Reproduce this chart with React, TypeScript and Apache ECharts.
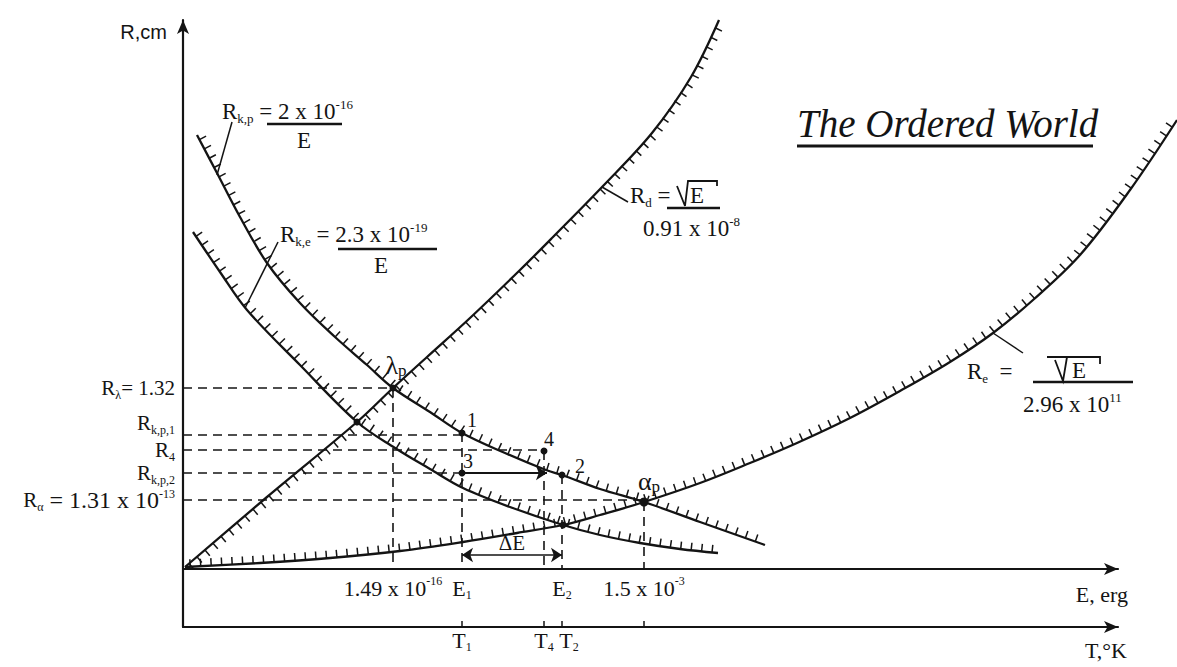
import React, { useEffect, useRef } from "react";
import * as echarts from "echarts";

const INK = "#141414";
const SERIF = "Liberation Serif, Times New Roman, serif";
const SANS = "Liberation Sans, Arial, sans-serif";

// Schematic axes: E to the right, R upward, T as a second scale below E
const E_MAX = 935;
const R_MIN = -58;
const R_MAX = 549;

// Curves as [E, R] pairs (schematic units)
const R_KP = [[14, 434], [34, 396], [57, 352], [84, 306], [117, 266], [152, 232], [184, 204], [210, 181], [247, 157], [279, 136], [322, 116], [363, 99], [379, 94], [417, 80], [461, 67], [517, 47], [582, 24]];
const R_KE = [[10, 337], [37, 297], [64, 259], [117, 204], [174, 147], [212, 121], [247, 100], [280, 81], [327, 62], [380, 44], [417, 34], [457, 26], [497, 20], [535, 16]];
const R_D = [[2, 2], [84, 72], [174, 147], [210, 181], [244, 212], [287, 251], [337, 299], [370, 332], [420, 383], [469, 436], [508, 492], [536, 549]];
const R_E = [[2, 2], [77, 6], [147, 11], [217, 18], [280, 27], [334, 36], [380, 44], [417, 54], [461, 67], [517, 86], [567, 106], [614, 126], [667, 151], [717, 178], [767, 207], [810, 236], [850, 269], [897, 314], [947, 379], [994, 449]];

// Marked states on the curves
const POINT_NAMES = ["λp", "1", "2", "3", "4", "αp", "", ""];
const POINT_E = [210, 279, 379, 279, 361, 461, 174, 380];
const POINT_R = [181, 136, 94, 96, 118, 67, 147, 44];

// Dashed projections: horizontal [R, E end], vertical [E, R top]
const H_GUIDES = [[181, 210], [134, 279], [119, 361], [96, 279], [69, 461]];
const V_GUIDES = [[210, 181], [279, 136], [361, 118], [379, 94], [461, 67]];

// Arrows: energy gap E1..E2 and the shift from state 3
const DELTA_E = [[279, 14], [379, 14]];
const SHIFT_3 = [[279, 96], [364, 96]];

// Leader lines from the formulas to their curves
const LEADERS = [
  [[49, 447], [34, 394]],
  [[95, 327], [62, 261]],
  [[419, 382], [445, 367]],
  [[810, 236], [840, 216]],
];

// Axis tick labels
const R_TICKS = [181, 134, 119, 96, 69];
const R_TICK_TEXT = [
  "{m|R}{sub|λ}{m|= 1.32}",
  "{m|R}{sub|k,p,1}\n{gap| }",
  "{m|R}{sub|4}",
  "{m|R}{sub|k,p,2}",
  "{m|R}{sub|α}{L| = 1.31 x 10}{sup|-13}",
];
const E_TICKS = [210, 279, 379, 461];
const E_TICK_TEXT = ["{m|1.49 x 10}{sup|-16}", "{m|E}{sub|1}", "{m|E}{sub|2}", "{m|1.5 x 10}{sup|-3}"];
const T_TICKS = [279, 361, 379, 461];
const T_TICK_TEXT = ["{m|T}{sub|1}", "{m|T}{sub|4}", "{pad| }{m|T}{sub|2}", ""];

// Formula captions next to the curves: [text, left, top]
const CAPTIONS: [string, number, number][] = [
  ["{m|R}{sub|k,p}{m| = 2 x 10}{sup|-16}", 222, 98],
  ["{m|E}", 297, 129],
  ["{m|R}{sub|k,e}{m| = 2.3 x 10}{sup|-19}", 280, 221],
  ["{m|E}", 374, 254],
  ["{m|R}{sub|d}{m| =}", 630, 182],
  ["{m|E}", 690, 184],
  ["{m|0.91 x 10}{sup|-8}", 643, 215],
  ["{m|R}{sub|e}{m|  =}", 967, 358],
  ["{m|E}", 1072, 359],
  ["{m|2.96 x 10}{sup|11}", 1023, 391],
];

const CURVES = [R_KP, R_KE, R_D, R_E];
const HATCH_SIDE = [1, 1, -1, 1];
const HATCH_STEP = 10.5;
const HATCH_LEN = 7.5;

function rich(size: number) {
  const small = Math.round(size * 0.56);
  const shift = Math.round(size * 0.62);
  const base = { fontFamily: SERIF, fontWeight: "normal", color: INK, verticalAlign: "middle" };
  return {
    m: { ...base, fontSize: size },
    L: { ...base, fontSize: size + 3 },
    sub: { ...base, fontSize: small, padding: [shift, 0, 0, 0] },
    sup: { ...base, fontSize: small, padding: [0, 0, shift, 0] },
    gap: { ...base, fontSize: 2, lineHeight: 24 },
    pad: { ...base, fontSize: 2, width: 14 },
  };
}

function pick(values: number[], texts: string[], v: number) {
  const i = values.findIndex((x) => Math.abs(x - v) < 0.5);
  return i < 0 ? "" : texts[i];
}

const LABEL_OFFSET = [[3, -23], [10, -13], [18, -9], [6, -12], [5, -12], [5, -21], [0, 0], [0, 0]];

function buildOption(): any {
  const pointItems = POINT_NAMES.map((name, i) => ({
    name,
    value: [POINT_E[i], POINT_R[i]],
    symbolSize: name === "αp" ? 9 : 7,
    label: {
      show: name !== "",
      position: "inside",
      offset: LABEL_OFFSET[i],
      color: INK,
      textBorderWidth: 0,
      formatter: () => (name.length === 2 ? `{g|${name[0]}}{gs|${name[1]}}` : `{n|${name}}`),
      rich: {
        g: { fontFamily: SERIF, fontSize: 26, color: INK },
        gs: { fontFamily: SERIF, fontSize: 17, color: INK, padding: [10, 0, 0, 0] },
        n: { fontFamily: SERIF, fontSize: 20, color: INK },
      },
    },
  }));

  const dashed = { color: INK, width: 1.6, type: [9, 6] };
  const solid = { color: INK, width: 1.5, type: "solid" };
  const lines: any[] = [
    ...H_GUIDES.map(([r, e]) => [{ coord: [0, r], lineStyle: dashed }, { coord: [e, r] }]),
    ...V_GUIDES.map(([e, r]) => [{ coord: [e, r], lineStyle: dashed }, { coord: [e, 0] }]),
    ...LEADERS.map(([a, b]) => [{ coord: a, lineStyle: solid }, { coord: b }]),
    [
      {
        coord: DELTA_E[0],
        symbol: "arrow",
        lineStyle: solid,
        label: { show: true, position: "middle", formatter: "ΔE", fontFamily: SERIF, fontSize: 21, color: INK, distance: 2 },
      },
      { coord: DELTA_E[1], symbol: "arrow" },
    ],
    [{ coord: SHIFT_3[0], symbol: "none", lineStyle: { ...solid, width: 1.8 } }, { coord: SHIFT_3[1], symbol: "arrow" }],
  ];

  // Each curve with its hatching, drawn through the cartesian scales
  const curves = {
    type: "custom",
    coordinateSystem: "cartesian2d",
    data: CURVES.map((_, i) => [i, 0]),
    encode: { x: 0, y: 1 },
    silent: true,
    clip: false,
    z: 3,
    renderItem: (_params: any, api: any) => {
      const k = api.value(0) as number;
      const pts = CURVES[k].map((p) => api.coord(p));
      const side = HATCH_SIDE[k];
      const children: any[] = [
        {
          type: "polyline",
          shape: { points: pts, smooth: 0.35 },
          style: { stroke: INK, lineWidth: 2.3, fill: "none" },
        },
      ];
      let next = HATCH_STEP * 0.5;
      let run = 0;
      for (let i = 1; i < pts.length; i++) {
        const [x0, y0] = pts[i - 1];
        const [x1, y1] = pts[i];
        const dx = x1 - x0;
        const dy = y1 - y0;
        const len = Math.hypot(dx, dy);
        if (!len) continue;
        const ux = dx / len;
        const uy = dy / len;
        const nx = side * uy;
        const ny = -side * ux;
        while (next <= run + len) {
          const t = next - run;
          const px = x0 + ux * t;
          const py = y0 + uy * t;
          children.push({
            type: "line",
            shape: { x1: px, y1: py, x2: px + nx * HATCH_LEN, y2: py + ny * HATCH_LEN },
            style: { stroke: INK, lineWidth: 1.5 },
          });
          next += HATCH_STEP;
        }
        run += len;
      }
      return { type: "group", children };
    },
  };

  const arrowLine = (extra: any = {}) => ({
    show: true,
    lineStyle: { color: INK, width: 2.2 },
    symbol: ["none", "arrow"],
    symbolSize: [9, 14],
    ...extra,
  });

  const f23 = rich(23);

  const titles = [
    {
      text: "The Ordered World",
      left: 797,
      top: 104,
      padding: 0,
      textStyle: { fontFamily: SERIF, fontStyle: "italic", fontWeight: "normal", fontSize: 39, color: INK },
    },
    ...CAPTIONS.map(([text, left, top]) => ({
      text,
      left,
      top,
      padding: 0,
      textStyle: { fontFamily: SERIF, fontWeight: "normal", fontSize: 23, color: INK, rich: f23 },
    })),
  ];

  return {
    animation: false,
    backgroundColor: "#ffffff",
    title: titles,
    grid: { left: 183, right: 59, top: 20, bottom: 40, outerBoundsMode: "none" },
    xAxis: [
      {
        type: "value",
        min: 0,
        max: E_MAX,
        position: "bottom",
        offset: R_MIN,
        axisLine: arrowLine({ onZero: false }),
        axisTick: { show: false },
        splitLine: { show: false },
        axisLabel: {
          customValues: E_TICKS,
          margin: 6,
          hideOverlap: false,
          formatter: (v: number) => pick(E_TICKS, E_TICK_TEXT, v),
          rich: rich(22),
        },
        name: "E, erg",
        nameLocation: "end",
        nameGap: 10,
        nameTextStyle: { fontFamily: SERIF, fontSize: 22, color: INK, align: "right", verticalAlign: "top", padding: [14, 0, 0, 0] },
      },
      {
        type: "value",
        min: 0,
        max: E_MAX,
        position: "bottom",
        axisLine: arrowLine({ onZero: false }),
        axisTick: { show: true, customValues: T_TICKS, inside: true, length: 6, lineStyle: { color: INK, width: 1.5 } },
        splitLine: { show: false },
        axisLabel: {
          customValues: T_TICKS,
          margin: 0,
          hideOverlap: false,
          formatter: (v: number) => pick(T_TICKS, T_TICK_TEXT, v),
          rich: rich(22),
        },
        name: "T,°K",
        nameLocation: "end",
        nameGap: 9,
        nameTextStyle: { fontFamily: SERIF, fontSize: 22, color: INK, align: "right", verticalAlign: "top", padding: [12, 0, 0, 0] },
      },
    ],
    yAxis: {
      type: "value",
      min: R_MIN,
      max: R_MAX,
      axisLine: arrowLine({ onZero: false }),
      axisTick: { show: false },
      splitLine: { show: false },
      axisLabel: {
        customValues: R_TICKS,
        margin: 8,
        hideOverlap: false,
        showMinLabel: true,
        showMaxLabel: true,
        formatter: (v: number) => pick(R_TICKS, R_TICK_TEXT, v),
        rich: rich(21),
      },
      name: "R,cm",
      nameLocation: "end",
      nameGap: -12,
      nameTextStyle: { fontFamily: SANS, fontSize: 20, color: INK, align: "right", verticalAlign: "middle", padding: [0, 16, 0, 0] },
    },
    series: [
      curves,
      {
        type: "scatter",
        data: pointItems,
        itemStyle: { color: INK, opacity: 1 },
        silent: true,
        z: 5,
        markLine: {
          silent: true,
          symbol: ["none", "none"],
          symbolSize: 11,
          label: { show: false },
          emphasis: { disabled: true },
          data: lines,
        },
      },
    ],
    graphic: [
      { type: "line", shape: { x1: 797, y1: 146, x2: 1093, y2: 146 }, style: { stroke: INK, lineWidth: 3 } },
      { type: "line", shape: { x1: 267, y1: 124, x2: 342, y2: 124 }, style: { stroke: INK, lineWidth: 2.6 } },
      { type: "line", shape: { x1: 338, y1: 249, x2: 437, y2: 249 }, style: { stroke: INK, lineWidth: 2.6 } },
      { type: "polyline", shape: { points: [[677, 186], [685, 206], [688, 181], [717, 181], [717, 186]] }, style: { stroke: INK, lineWidth: 1.8, fill: null } },
      { type: "line", shape: { x1: 667, y1: 208, x2: 720, y2: 208 }, style: { stroke: INK, lineWidth: 2.4 } },
      { type: "polyline", shape: { points: [[1047, 357], [1100, 357], [1100, 364]] }, style: { stroke: INK, lineWidth: 1.8, fill: null } },
      { type: "polyline", shape: { points: [[1055, 360], [1063, 381], [1067, 357]] }, style: { stroke: INK, lineWidth: 1.8, fill: null } },
      { type: "line", shape: { x1: 1033, y1: 382, x2: 1133, y2: 382 }, style: { stroke: INK, lineWidth: 2.4 } },
    ],
  };
}

export default function App() {
  const ref = useRef<HTMLDivElement>(null);
  useEffect(() => {
    if (!ref.current) return;
    const chart = echarts.init(ref.current, undefined, { renderer: "svg" });
    chart.setOption(buildOption());
    return () => chart.dispose();
  }, []);
  return (
    <div
      ref={ref}
      style={{ position: "absolute", left: 0, top: 0, width: 1177, height: 667, background: "#ffffff" }}
    />
  );
}
